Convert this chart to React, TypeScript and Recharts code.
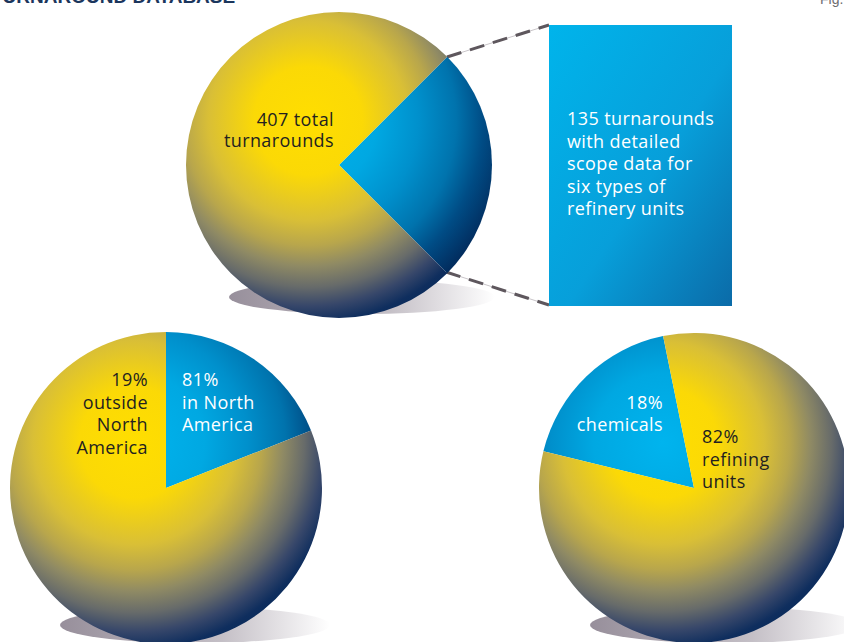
import React from "react";
import { PieChart, Pie, Cell } from "recharts";

// ---- data ----
const topSliceNames = ["Detailed scope data", "Other turnarounds"];
const topSliceValues = [25, 75];
const regionSliceNames = ["In North America wedge", "Outside wedge"];
const regionSliceValues = [19, 81];
const typeSliceNames = ["Chemicals", "Refining units"];
const typeSliceValues = [18, 82];

const topLabelLines = ["407 total", "turnarounds"];
const boxLines = [
  "135 turnarounds",
  "with detailed",
  "scope data for",
  "six types of",
  "refinery units",
];
const outsideLines = ["19%", "outside", "North", "America"];
const northLines = ["81%", "in North", "America"];
const chemLines = ["18%", "chemicals"];
const refiningLines = ["82%", "refining", "units"];
const titleText = "TURNAROUND DATABASE";
const figText = "Fig.";

const W = 844;
const H = 642;

const pies = [
  { id: "top", cx: 339, cy: 165, r: 153, start: -45, names: topSliceNames, values: topSliceValues },
  { id: "bl", cx: 166, cy: 488, r: 156, start: 21.6, names: regionSliceNames, values: regionSliceValues },
  { id: "br", cx: 694, cy: 488, r: 155, start: 101.5, names: typeSliceNames, values: typeSliceValues },
];

const yellowStops: [number, string][] = [
  [0, "#ffde00"],
  [0.26, "#fbd906"],
  [0.48, "#d9bf36"],
  [0.6, "#b8a64c"],
  [0.7, "#8f8a64"],
  [0.8, "#676b6a"],
  [0.89, "#37476a"],
  [0.97, "#0f2e5e"],
  [1, "#0b2c5c"],
];
const blueStops: [number, string][] = [
  [0, "#00b4ee"],
  [0.33, "#00a8e2"],
  [0.53, "#0090cc"],
  [0.71, "#0073ad"],
  [0.84, "#004c85"],
  [1, "#02295a"],
];

const FONT = "'Open Sans', 'Liberation Sans', sans-serif";

function grads() {
  const out: React.ReactNode[] = [];
  pies.forEach((p) => {
    const fx = p.cx - 0.2 * p.r;
    const fy = p.cy - 0.29 * p.r;
    const gr = p.r * 1.36;
    out.push(
      <radialGradient key={p.id + "y"} id={p.id + "-yellow"} gradientUnits="userSpaceOnUse" cx={fx} cy={fy} r={gr} fx={fx} fy={fy}>
        {yellowStops.map(([o, c]) => (
          <stop key={o} offset={o} stopColor={c} />
        ))}
      </radialGradient>
    );
    out.push(
      <radialGradient key={p.id + "b"} id={p.id + "-blue"} gradientUnits="userSpaceOnUse" cx={fx} cy={fy} r={gr} fx={fx} fy={fy}>
        {blueStops.map(([o, c]) => (
          <stop key={o} offset={o} stopColor={c} />
        ))}
      </radialGradient>
    );
  });
  return out;
}

const shadows = [
  { cx: 362, cy: 297, rx: 133, ry: 17 },
  { cx: 195, cy: 625, rx: 135, ry: 18 },
  { cx: 725, cy: 625, rx: 135, ry: 18 },
];

function TextBlock({ lines, x, y, anchor, color, lh = 22.5, size = 18 }: any) {
  return (
    <text x={x} y={y} textAnchor={anchor} fill={color} fontSize={size} fontFamily={FONT} letterSpacing={0.4}>
      {lines.map((l: string, i: number) => (
        <tspan key={i} x={x} y={y + i * lh}>
          {l}
        </tspan>
      ))}
    </text>
  );
}

export default function App() {
  return (
    <div style={{ position: "relative", width: W, height: H, overflow: "hidden", background: "#fff" }}>
      <style>{`body{margin:0}`}</style>
      <svg width={W} height={H} style={{ position: "absolute", left: 0, top: 0 }}>
        <defs>
          {grads()}
          <linearGradient id="shadowGrad" x1="0" y1="0" x2="1" y2="0">
            <stop offset="0" stopColor="#978f9b" />
            <stop offset="0.6" stopColor="#c4bfc6" />
            <stop offset="1" stopColor="#ffffff" />
          </linearGradient>
          <linearGradient id="boxGrad" x1="0" y1="0" x2="1" y2="1">
            <stop offset="0" stopColor="#00b4eb" />
            <stop offset="0.55" stopColor="#079fda" />
            <stop offset="1" stopColor="#0b6ba8" />
          </linearGradient>
        </defs>
        {shadows.map((s, i) => (
          <ellipse key={i} cx={s.cx} cy={s.cy} rx={s.rx} ry={s.ry} fill="url(#shadowGrad)" />
        ))}
        {[
          [447, 57, 549, 25],
          [446, 272, 549, 305],
        ].map(([x1, y1, x2, y2], i) => (
          <g key={i}>
            <line x1={x1} y1={y1} x2={x2} y2={y2} stroke="#c9c5c9" strokeWidth={1} />
            <line x1={x1} y1={y1} x2={x2} y2={y2} stroke="#5e575d" strokeWidth={3} strokeDasharray="15 9" />
          </g>
        ))}
      </svg>
      <div style={{ position: "absolute", left: 0, top: 0 }}>
        <PieChart width={W} height={H} margin={{ top: 0, right: 0, bottom: 0, left: 0 }}>
          {pies.map((p) => (
            <Pie
              key={p.id}
              data={p.names.map((n, i) => ({ name: n, value: p.values[i] }))}
              dataKey="value"
              nameKey="name"
              cx={p.cx}
              cy={p.cy}
              innerRadius={0}
              outerRadius={p.r}
              startAngle={p.start + (p.values[0] / 100) * 360}
              endAngle={p.start + (p.values[0] / 100) * 360 - 360}
              stroke="none"
              isAnimationActive={false}
            >
              <Cell fill={`url(#${p.id}-blue)`} />
              <Cell fill={`url(#${p.id}-yellow)`} />
            </Pie>
          ))}
        </PieChart>
      </div>
      <svg width={W} height={H} style={{ position: "absolute", left: 0, top: 0 }}>
        <rect x={549} y={25} width={183} height={281} fill="url(#boxGrad)" />
        <TextBlock lines={boxLines} x={567} y={125} anchor="start" color="#ffffff" />
        <TextBlock lines={topLabelLines} x={334} y={126} anchor="end" color="#231f20" lh={21} />
        <TextBlock lines={outsideLines} x={148} y={386} anchor="end" color="#231f20" />
        <TextBlock lines={northLines} x={182} y={386} anchor="start" color="#ffffff" />
        <TextBlock lines={chemLines} x={663} y={409} anchor="end" color="#ffffff" lh={21.5} />
        <TextBlock lines={refiningLines} x={702} y={443} anchor="start" color="#231f20" lh={22.5} />
        <text x={-9} y={3} fontSize={19} fontWeight="bold" fill="#1b365d" fontFamily="'Liberation Sans', Arial, sans-serif">
          {titleText}
        </text>
        <text x={820} y={4} fontSize={14} fill="#6d6e71" fontFamily="'Liberation Sans', Arial, sans-serif">
          {figText}
        </text>
      </svg>
    </div>
  );
}
